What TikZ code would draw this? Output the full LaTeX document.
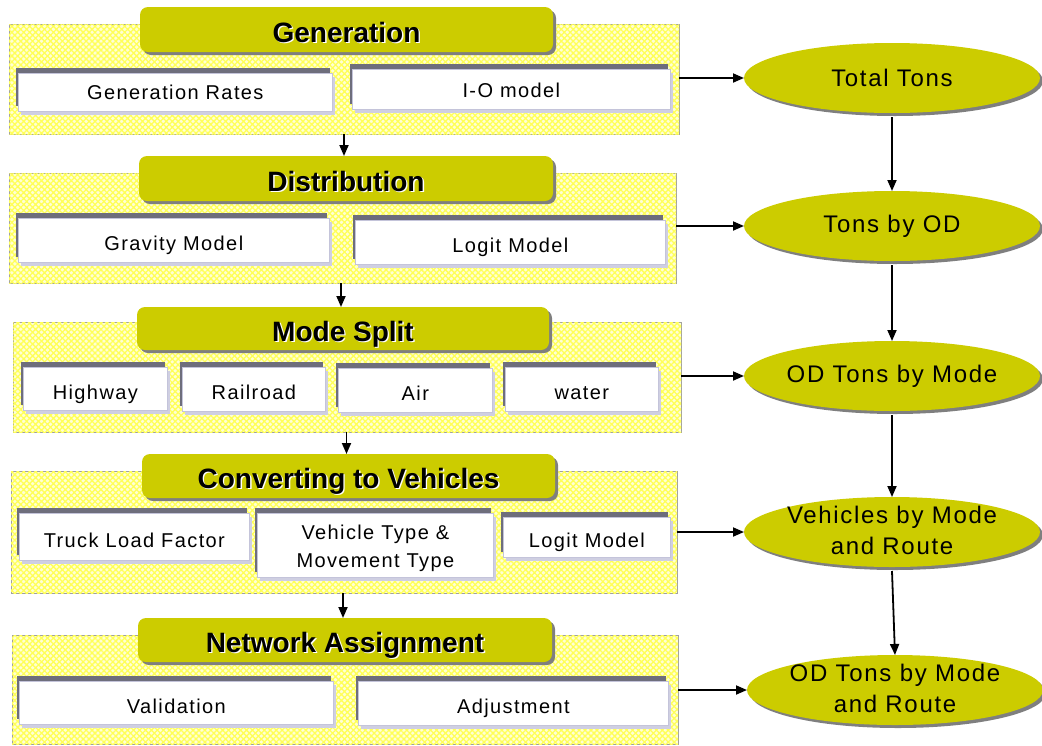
\documentclass[tikz,border=0pt]{standalone}
\usepackage{fontspec}
\setmainfont{Liberation Sans}
\newfontfamily\trk[LetterSpace=7]{Liberation Sans}
\usetikzlibrary{arrows.meta,shapes.geometric,shadows,patterns.meta}
\definecolor{ttlfill}{HTML}{CCCC00}
\definecolor{ttlshadow}{HTML}{7F7F7F}
\definecolor{panelborder}{HTML}{A0A0A0}
\definecolor{panelfill}{HTML}{FFFFD4}
\definecolor{hatchcol}{HTML}{FFFF58}
\definecolor{idark}{HTML}{6E6E7C}
\definecolor{ilav}{HTML}{CFCFE2}
\definecolor{iborder}{HTML}{C4C4DA}
\newcommand\halotext[1]{\rlap{\kern1.4pt\raisebox{-1.4pt}{\color{white}#1}}#1}
\tikzset{
  panel/.style={anchor=north west, draw=panelborder, line width=0.9pt, fill=panelfill,
    postaction={pattern={Hatch[angle=45,distance=4.2pt,line width=1.3pt]}, pattern color=hatchcol},
    inner sep=0pt, outer sep=0pt},
  ttl/.style={anchor=north west, rounded corners=8pt, fill=ttlfill, inner sep=0pt, outer sep=0pt,
    font=\bfseries\fontsize{28}{30}\selectfont, text height=25pt, text depth=0pt,
    drop shadow={shadow xshift=3pt, shadow yshift=-3pt, fill=ttlshadow, opacity=1}},
  ibox/.style={anchor=north west, fill=white, draw=iborder, line width=0.7pt, inner sep=0pt,
    align=center, font=\trk\fontsize{20}{28}\selectfont, text height=21pt, text depth=0pt,
    general shadow={fill=idark, shadow xshift=-2pt, shadow yshift=5pt},
    general shadow={fill=ilav, shadow xshift=3pt, shadow yshift=-4pt}},
  ell/.style={ellipse, fill=ttlfill, minimum width=296pt, minimum height=70pt, inner sep=0pt,
    outer sep=0pt, drop shadow={shadow xshift=3pt, shadow yshift=-3pt, fill=ttlshadow, opacity=1}},
  elltext/.style={align=center, inner sep=0pt, font=\trk\fontsize{24}{31}\selectfont},
  arr/.style={-{Triangle[length=11pt,width=9pt]}, line width=1.8pt}
}
\begin{document}
\begin{tikzpicture}[x=1pt,y=-1pt]
\useasboundingbox (0,0) rectangle (1042,745);

% Panel 1
\node[panel, minimum width=670pt, minimum height=110pt] (p1) at (9,24) {};
\node[ttl, minimum width=413pt, minimum height=45pt] (t1) at (140,7) {\halotext{Generation}};
\node[ibox, minimum width=314pt, minimum height=38pt, text height=15pt] (b11) at (18,73) {Generation Rates};
\node[ibox, minimum width=318pt, minimum height=40pt, text height=17pt] (b12) at (352,69) {I-O model};

% Panel 2
\node[panel, minimum width=667pt, minimum height=110pt] (p2) at (9,173) {};
\node[ttl, minimum width=414pt, minimum height=45pt] (t2) at (139,156) {\halotext{Distribution}};
\node[ibox, minimum width=311pt, minimum height=44pt] (b21) at (18,218) {Gravity Model};
\node[ibox, minimum width=310pt, minimum height=44pt] (b22) at (355,220) {Logit Model};

% Panel 3
\node[panel, minimum width=668pt, minimum height=110pt] (p3) at (13,322) {};
\node[ttl, minimum width=412pt, minimum height=43pt] (t3) at (137,307) {\halotext{Mode Split}};
\node[ibox, minimum width=144pt, minimum height=43pt] (b31) at (23,367) {Highway};
\node[ibox, minimum width=143pt, minimum height=44pt] (b32) at (182,367) {Railroad};
\node[ibox, minimum width=154pt, minimum height=44pt] (b33) at (338,368) {Air};
\node[ibox, minimum width=153pt, minimum height=44pt] (b34) at (505,367) {water};

% Panel 4
\node[panel, minimum width=666pt, minimum height=122pt] (p4) at (11,471) {};
\node[ttl, minimum width=413pt, minimum height=44pt] (t4) at (142,454) {\halotext{Converting to Vehicles}};
\node[ibox, minimum width=230pt, minimum height=47pt] (b41) at (19,513) {Truck Load Factor};
\node[ibox, minimum width=236pt, minimum height=64pt, text height=44pt, text depth=0pt] (b42) at (257,513) {Vehicle Type \&\\Movement Type};
\node[ibox, minimum width=167pt, minimum height=40pt] (b43) at (503,517) {Logit Model};

% Panel 5
\node[panel, minimum width=666pt, minimum height=109pt] (p5) at (12,635) {};
\node[ttl, minimum width=414pt, minimum height=44pt] (t5) at (138,618) {\halotext{Network Assignment}};
\node[ibox, minimum width=314pt, minimum height=43pt] (b51) at (19,681) {Validation};
\node[ibox, minimum width=310pt, minimum height=44pt] (b52) at (358,681) {Adjustment};

% Ellipses
\node[ell] (e1) at (892,78) {};
\node[elltext] (e1t) at (e1.center) {Total Tons};
\node[ell] (e2) at (892,226) {};
\node[elltext] (e2t) at (e2.center) {Tons by OD};
\node[ell] (e3) at (892,376) {};
\node[elltext] (e3t) at (e3.center) {OD Tons by Mode};
\node[ell] (e4) at (892,532) {};
\node[elltext] (e4t) at ([yshift=1.5pt]e4.center) {Vehicles by Mode\\and Route};
\node[ell] (e5) at (895,690) {};
\node[elltext] (e5t) at ([yshift=1.5pt]e5.center) {OD Tons by Mode\\and Route};

% Arrows panel -> ellipse
\draw[arr] (e1.west -| p1.east) -- (e1.west);
\draw[arr] (e2.west -| p2.east) -- (e2.west);
\draw[arr] (e3.west -| p3.east) -- (e3.west);
\draw[arr] (e4.west -| p4.east) -- (e4.west);
\draw[arr] (e5.west -| p5.east) -- (e5.west);

% Arrows between panels
\draw[arr] ([xshift=-2pt]p1.south -| t2.north) -- ([xshift=-2pt]t2.north);
\draw[arr] ([xshift=-2pt]p2.south -| t3.north) -- ([xshift=-2pt]t3.north);
\draw[arr] ([xshift=-2pt]p3.south -| t4.north) -- ([xshift=-2pt]t4.north);
\draw[arr] ([xshift=-2pt]p4.south -| t5.north) -- ([xshift=-2pt]t5.north);

% Arrows between ellipses
\draw[arr] ([yshift=-4pt]e1.south) -- (e2.north);
\draw[arr] ([yshift=-4pt]e2.south) -- (e3.north);
\draw[arr] ([yshift=-4pt]e3.south) -- (e4.north);
\draw[arr] ([yshift=-4pt]e4.south) -- (e5.north);
\end{tikzpicture}
\end{document}
